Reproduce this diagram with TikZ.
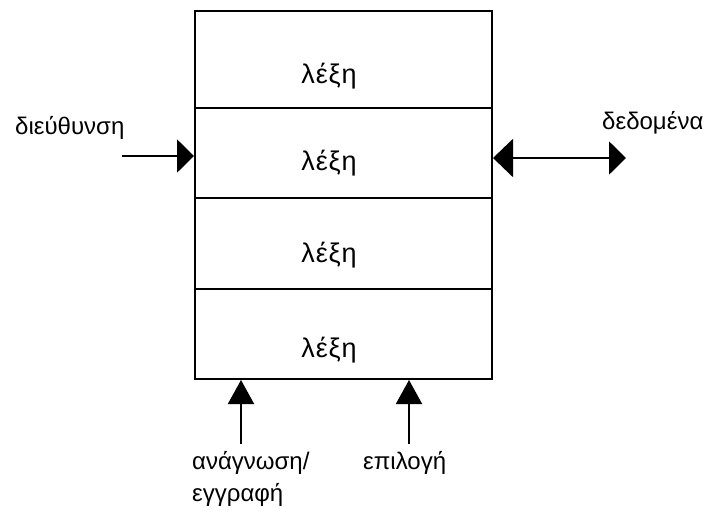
\documentclass[tikz,border=0pt]{standalone}
\usepackage{fontspec}
\setmainfont{Liberation Sans}
\newfontfamily\widefont[LetterSpace=3]{Liberation Sans}
\usetikzlibrary{arrows.meta}
\begin{document}
\begin{tikzpicture}[x=1pt,y=-1pt,
  cell/.style={draw,line width=2pt,minimum width=297pt,inner sep=0pt,anchor=north west},
  word/.style={font=\widefont\fontsize{27}{29}\selectfont,inner sep=0pt},
  lbl/.style={font=\fontsize{24}{26}\selectfont,inner sep=0pt,anchor=west},
  conn/.style={line width=2pt},
  headA/.style={-{Triangle[length=17pt,width=33pt]}},
  headB/.style={{Triangle[length=20pt,width=38pt]}-{Triangle[length=17pt,width=33pt]}},
  headC/.style={-{Triangle[length=24pt,width=26pt]}}]
\useasboundingbox (0,0) rectangle (710,512);
\node[cell,minimum height=97pt] (c1) at (194,10) {};
\node[cell,minimum height=90pt] (c2) at (194,107) {};
\node[cell,minimum height=91pt] (c3) at (194,197) {};
\node[cell,minimum height=90pt] (c4) at (194,288) {};
\node[word] (w1) at (329,76) {λέξη};
\node[word] (w2) at (329,163) {λέξη};
\node[word] (w3) at (329,255) {λέξη};
\node[word] (w4) at (329,350) {λέξη};
\node[lbl] (addr) at (15,128) {διεύθυνση};
\node[lbl] (data) at (602,123) {δεδομένα};
\node[lbl] (rw1) at (192,463) {ανάγνωση/};
\node[lbl] (rw2) at (192,495) {εγγραφή};
\node[lbl] (sel) at (363,463) {επιλογή};
\coordinate (a0) at (122,156);
\coordinate (d1) at (626,158);
\coordinate (r0) at (241,444);
\coordinate (s0) at (409,444);
\draw[conn,headA] (a0) -- (c2.west |- a0);
\draw[conn,headB] (c2.east |- d1) -- (d1);
\draw[conn,headC] (r0) -- (c4.south -| r0);
\draw[conn,headC] (s0) -- (c4.south -| s0);
\end{tikzpicture}
\end{document}
